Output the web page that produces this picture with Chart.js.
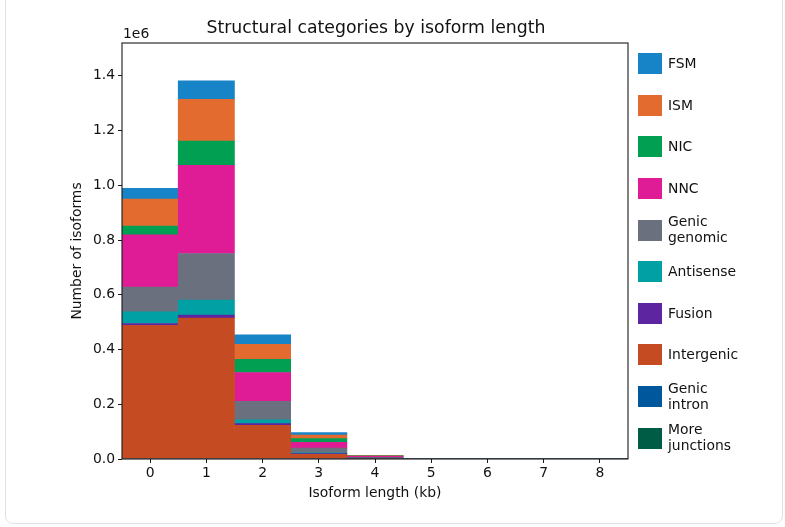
<!DOCTYPE html>
<html>
<head>
<meta charset="utf-8">
<script src="https://cdn.jsdelivr.net/npm/chart.js@4/dist/chart.umd.min.js"></script>
<style>
  html, body { margin: 0; padding: 0; background: #fff; overflow: hidden; }
  #wrap { position: relative; width: 785px; height: 527px; }
  #card { position: absolute; left: 5px; top: -10px; width: 778px; height: 534px;
          box-sizing: border-box; border: 1px solid #e3e3e3; border-radius: 8px; }
  #chart { position: absolute; left: 0; top: 0; }
  #legend { position: absolute; left: 638px; top: 43px; font-family: "DejaVu Sans", sans-serif;
            font-size: 13.9px; color: #111; }
  .item { display: flex; align-items: center; height: 41.6px; }
  .swatch { width: 24px; height: 21px; margin-right: 6px; flex: none; }
  .label { line-height: 15.7px; }
</style>
</head>
<body>
<div id="wrap">
  <div id="card"></div>
  <canvas id="chart" width="785" height="527"></canvas>
  <div id="legend"></div>
</div>
<script>
// Isoform length bins (kb)
const lengthBins = ['0', '1', '2', '3', '4', '5', '6', '7', '8'];

// Isoform counts per structural category, per length bin
const fsm          = [39000, 68000, 35000, 9500, 1200, 0, 0, 0, 0];
const ism          = [99000, 152000, 55000, 12500, 1500, 0, 0, 0, 0];
const nic          = [32000, 89000, 48000, 13500, 1500, 0, 0, 0, 0];
const nnc          = [191000, 322000, 105000, 21000, 3000, 0, 0, 0, 0];
const genicGenomic = [90000, 170000, 68000, 17000, 2200, 0, 0, 0, 0];
const antisense    = [43000, 55000, 14000, 3500, 700, 0, 0, 0, 0];
const fusion       = [7000, 11000, 6000, 2500, 500, 0, 0, 0, 0];
const intergenic   = [488000, 515000, 123000, 17000, 3000, 0, 0, 0, 0];
const genicIntron  = [0, 0, 0, 0, 0, 0, 0, 0, 0];
const moreJunctions = [0, 0, 0, 0, 0, 0, 0, 0, 0];

// Y tick values (counts)
const yTicks = [0, 200000, 400000, 600000, 800000, 1000000, 1200000, 1400000];

// Legend order, top to bottom
const categories = [
  { name: 'FSM', text: ['FSM'], data: fsm, color: '#1784c7' },
  { name: 'ISM', text: ['ISM'], data: ism, color: '#e36b2f' },
  { name: 'NIC', text: ['NIC'], data: nic, color: '#009f52' },
  { name: 'NNC', text: ['NNC'], data: nnc, color: '#e01b96' },
  { name: 'Genic genomic', text: ['Genic', 'genomic'], data: genicGenomic, color: '#6b707f' },
  { name: 'Antisense', text: ['Antisense'], data: antisense, color: '#00a0a5' },
  { name: 'Fusion', text: ['Fusion'], data: fusion, color: '#5e25a0' },
  { name: 'Intergenic', text: ['Intergenic'], data: intergenic, color: '#c54b22' },
  { name: 'Genic intron', text: ['Genic', 'intron'], data: genicIntron, color: '#00579b' },
  { name: 'More junctions', text: ['More', 'junctions'], data: moreJunctions, color: '#005c44' }
];

// Stack order: Genic intron / More junctions at the base, then Intergenic up to FSM
const stackOrder = ['Genic intron', 'More junctions', 'Intergenic', 'Fusion', 'Antisense',
                    'Genic genomic', 'NNC', 'NIC', 'ISM', 'FSM'];

const FONT = '"DejaVu Sans", sans-serif';
const FS = 13.9;

const datasets = stackOrder.map(n => {
  const c = categories.find(k => k.name === n);
  return {
    label: c.name,
    data: c.data,
    backgroundColor: c.color,
    borderWidth: 0,
    barPercentage: 1,
    categoryPercentage: 1
  };
});

// Legend
const legend = document.getElementById('legend');
categories.forEach(c => {
  const row = document.createElement('div');
  row.className = 'item';
  const sw = document.createElement('div');
  sw.className = 'swatch';
  sw.style.background = c.color;
  const lb = document.createElement('div');
  lb.className = 'label';
  lb.innerHTML = c.text.join('<br>');
  row.appendChild(sw);
  row.appendChild(lb);
  legend.appendChild(row);
});

// Frame, title and axis offset text
const framePlugin = {
  id: 'frame',
  afterDraw(chart) {
    const { ctx, chartArea: a } = chart;
    ctx.save();
    ctx.strokeStyle = '#1a1a1a';
    ctx.lineWidth = 1.1;
    ctx.strokeRect(a.left, a.top, a.right - a.left, a.bottom - a.top);
    ctx.fillStyle = '#111';
    ctx.textBaseline = 'alphabetic';
    ctx.textAlign = 'center';
    ctx.font = '17.3px ' + FONT;
    ctx.fillText('Structural categories by isoform length', (a.left + a.right) / 2 + 1, 32.5);
    ctx.textAlign = 'left';
    ctx.font = FS + 'px ' + FONT;
    ctx.fillText('1e6', a.left + 1, 37.5);
    ctx.restore();
  }
};

new Chart(document.getElementById('chart'), {
  type: 'bar',
  data: { labels: lengthBins, datasets },
  options: {
    responsive: false,
    animation: false,
    layout: { padding: { left: 66, right: 157, top: 43, bottom: 0 } },
    plugins: { legend: { display: false }, tooltip: { enabled: false } },
    scales: {
      x: {
        stacked: true,
        grid: { display: true, drawOnChartArea: false, drawTicks: true, tickLength: 4, color: '#1a1a1a', offset: false },
        border: { display: false },
        ticks: { color: '#111', font: { family: FONT, size: FS }, padding: 2, maxRotation: 0 },
        title: { display: true, text: 'Isoform length (kb)', color: '#111',
                 font: { family: FONT, size: FS }, padding: { top: 0, bottom: 25 } },
        afterFit(s) { s.height = 68; }
      },
      y: {
        stacked: true,
        min: 0,
        max: 1520000,
        grid: { display: true, drawOnChartArea: false, drawTicks: true, tickLength: 4, color: '#1a1a1a' },
        border: { display: false },
        afterBuildTicks(s) { s.ticks = yTicks.map(v => ({ value: v })); },
        ticks: {
          color: '#111',
          font: { family: FONT, size: FS },
          padding: 3,
          callback: v => (v / 1e6).toFixed(1)
        },
        title: { display: true, text: 'Number of isoforms', color: '#111',
                 font: { family: FONT, size: FS }, padding: { top: 3, bottom: 0 } },
        afterFit(s) { s.width = 56; }
      }
    }
  },
  plugins: [framePlugin]
});
</script>
</body>
</html>
